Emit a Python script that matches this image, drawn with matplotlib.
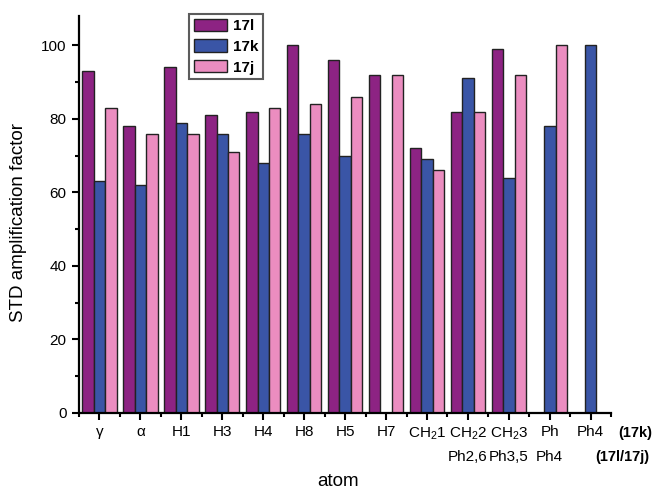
import numpy as np
import matplotlib
matplotlib.use("Agg")
import matplotlib.pyplot as plt
from matplotlib.ticker import MultipleLocator
import matplotlib.transforms as mtransforms

plt.rcParams["font.family"] = ["Liberation Sans", "DejaVu Sans"]
plt.rcParams["mathtext.fontset"] = "custom"
plt.rcParams["mathtext.rm"] = "Liberation Sans"
plt.rcParams["mathtext.it"] = "Liberation Sans:italic"

# data (NaN = no bar)
atoms = ["γ", "α", "H1", "H3", "H4", "H8", "H5", "H7",
         "CH$_2$1", "CH$_2$2", "CH$_2$3", "Ph", "Ph4"]
atoms_17lj = ["", "", "", "", "", "", "", "", "", "Ph2,6", "Ph3,5", "Ph4", ""]
v17l = [93, 78, 94, 81, 82, 100, 96, 92, 72, 82, 99, np.nan, np.nan]
v17k = [63, 62, 79, 76, 68, 76, 70, np.nan, 69, 91, 64, 78, 100]
v17j = [83, 76, 76, 71, 83, 84, 86, 92, 66, 82, 92, 100, np.nan]

series = [("17l", v17l, "#8d2383"), ("17k", v17k, "#3a55a6"), ("17j", v17j, "#eb8dc0")]

fig = plt.figure(figsize=(6.53, 4.92), dpi=100)
ax = fig.add_axes([0.121, 0.1606, 0.815, 0.807])

x = np.arange(1, len(atoms) + 1)
w = 0.28
for i, (name, vals, col) in enumerate(series):
    vals = np.asarray(vals, dtype=float)
    m = ~np.isnan(vals)
    ax.bar(x[m] + (i - 1) * w, vals[m], width=w, color=col,
           edgecolor="#222222", linewidth=1.0, label=name)

ax.set_xlim(0.5, len(atoms) + 0.5)
ax.set_ylim(0, 108)
ax.spines["top"].set_visible(False)
ax.spines["right"].set_visible(False)
for s in ("left", "bottom"):
    ax.spines[s].set_linewidth(1.6)

ax.set_xticks(x)
ax.set_xticklabels(atoms, fontsize=11)
ax.xaxis.set_minor_locator(MultipleLocator(0.5))
ax.yaxis.set_major_locator(MultipleLocator(20))
ax.yaxis.set_minor_locator(MultipleLocator(10))
ax.tick_params(axis="both", which="major", direction="out", length=5, width=1.5,
               labelsize=11, pad=4)
ax.tick_params(axis="both", which="minor", direction="out", length=3, width=1.5)

# second row of atom names (17l/17j) and the row tags on the right
trans = mtransforms.blended_transform_factory(ax.transData, ax.transAxes)
for xi, lab in zip(x, atoms_17lj):
    if lab:
        ax.text(xi, -0.111, lab, transform=trans, ha="center", va="center", fontsize=11)
ax.text(1.013, -0.05, "(17k)", transform=ax.transAxes, ha="left", va="center",
        fontsize=10.5, fontweight="bold")
ax.text(0.970, -0.111, "(17l/17j)", transform=ax.transAxes, ha="left", va="center",
        fontsize=10.5, fontweight="bold")

ax.set_ylabel("STD amplification factor", fontsize=13.5)
ax.yaxis.set_label_coords(-0.098, 0.48)
ax.set_xlabel("atom", fontsize=13.5)
ax.xaxis.set_label_coords(0.487, -0.152)

leg = ax.legend(loc="upper left", bbox_to_anchor=(0.207, 1.005),
                prop={"weight": "bold", "size": 11}, frameon=True, fancybox=False,
                edgecolor="#333333", handlelength=2.2, handleheight=0.85,
                handletextpad=0.35, borderpad=0.3, labelspacing=0.42, borderaxespad=0)
leg.get_frame().set_linewidth(1.5)

fig.savefig("out.png", dpi=100)
